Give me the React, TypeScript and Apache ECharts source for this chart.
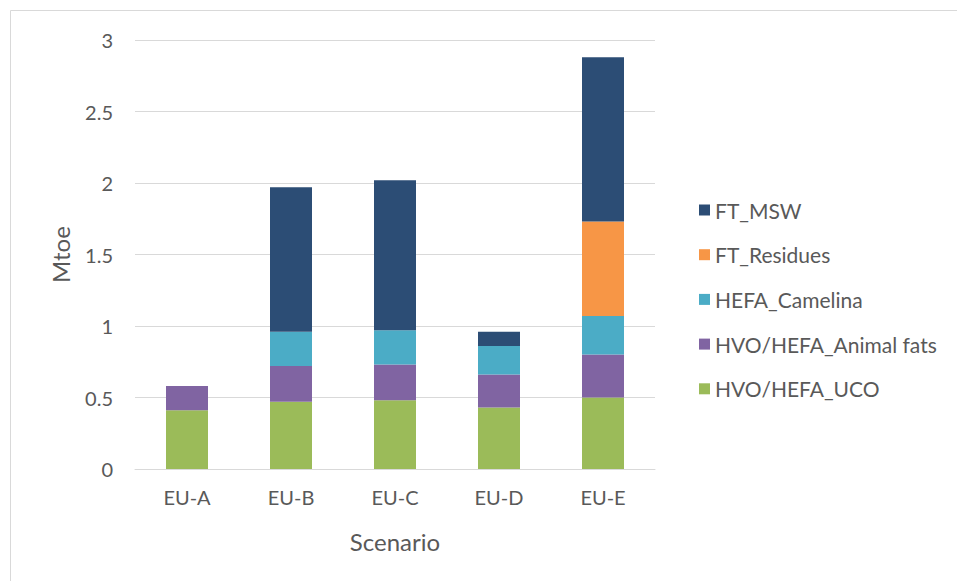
import React, { useEffect, useRef } from "react";
import * as echarts from "echarts";

const categories = ["EU-A", "EU-B", "EU-C", "EU-D", "EU-E"];
const hvoUco = [0.41, 0.47, 0.48, 0.43, 0.5];
const hvoAnimalFats = [0.17, 0.25, 0.25, 0.23, 0.3];
const hefaCamelina = [0, 0.24, 0.24, 0.2, 0.27];
const ftResidues = [0, 0, 0, 0, 0.66];
const ftMsw = [0, 1.01, 1.05, 0.1, 1.15];
const legendOrder = ["FT_MSW", "FT_Residues", "HEFA_Camelina", "HVO/HEFA_Animal fats", "HVO/HEFA_UCO"];

const FONT = "Lato, 'Open Sans', sans-serif";

export default function App() {
  const ref = useRef<HTMLDivElement>(null);
  useEffect(() => {
    if (!ref.current) return;
    const chart = echarts.init(ref.current, undefined, { renderer: "svg" });
    const mk = (name: string, data: number[], color: string) => ({
      name,
      type: "bar",
      stack: "total",
      data: data.map((v) => (v === 0 ? null : v)),
      barWidth: 42,
      itemStyle: { color },
    });
    chart.setOption({
      animation: false,
      backgroundColor: "#ffffff",
      textStyle: { fontFamily: FONT },
      graphic: [
        {
          type: "rect",
          shape: { x: 10.5, y: 10.5, width: 1000, height: 1000 },
          style: { fill: "none", stroke: "#d9d9d9", lineWidth: 1 },
          silent: true,
        },
      ],
      grid: { left: 135, right: 302, top: 40, bottom: 112 },
      legend: {
        orient: "vertical",
        left: 694,
        top: 193,
        itemWidth: 11,
        itemHeight: 11,
        itemGap: 20.7,
        icon: "rect",
        data: legendOrder,
        textStyle: { fontFamily: FONT, fontSize: 21, color: "#595959", lineHeight: 24 },
      },
      xAxis: {
        type: "category",
        data: categories,
        name: "Scenario",
        nameLocation: "middle",
        nameGap: 60,
        nameTextStyle: { fontFamily: FONT, fontSize: 24, color: "#595959" },
        axisLine: { lineStyle: { color: "#d9d9d9", width: 1 } },
        axisTick: { show: false },
        axisLabel: { fontFamily: FONT, fontSize: 20, color: "#595959", margin: 18 },
      },
      yAxis: {
        type: "value",
        min: 0,
        max: 3,
        interval: 0.5,
        name: "Mtoe",
        nameLocation: "middle",
        nameGap: 63,
        nameTextStyle: { fontFamily: FONT, fontSize: 24, color: "#595959" },
        axisLine: { show: false },
        axisTick: { show: false },
        splitLine: { lineStyle: { color: "#d9d9d9", width: 1 } },
        axisLabel: { fontFamily: FONT, fontSize: 20, color: "#595959", margin: 22 },
      },
      series: [
        mk("HVO/HEFA_UCO", hvoUco, "#9bbb59"),
        mk("HVO/HEFA_Animal fats", hvoAnimalFats, "#8064a2"),
        mk("HEFA_Camelina", hefaCamelina, "#4bacc6"),
        mk("FT_Residues", ftResidues, "#f79646"),
        mk("FT_MSW", ftMsw, "#2c4d75"),
      ],
    });
    return () => chart.dispose();
  }, []);
  return <div ref={ref} style={{ width: 957, height: 581, position: "absolute", left: 0, top: 0 }} />;
}
